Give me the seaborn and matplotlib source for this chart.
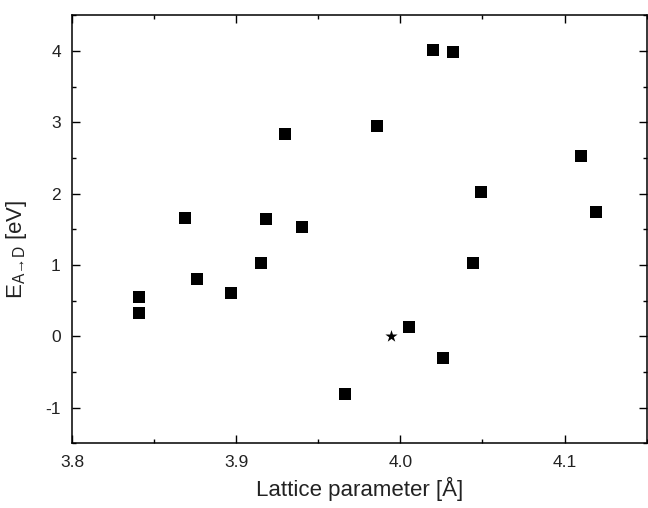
import matplotlib
matplotlib.use("Agg")
import matplotlib.pyplot as plt
import seaborn as sns
import pandas as pd
from matplotlib.ticker import MultipleLocator, FormatStrFormatter

# lattice parameter [Å] and E_A->D [eV]
lattice = [3.841, 3.841, 3.869, 3.876, 3.897, 3.915, 3.918, 3.930, 3.940,
           3.966, 3.986, 4.005, 4.020, 4.026, 4.032, 4.044, 4.049, 4.110, 4.119]
energy = [0.55, 0.335, 1.66, 0.80, 0.605, 1.03, 1.64, 2.83, 1.53,
          -0.81, 2.95, 0.135, 4.01, -0.30, 3.99, 1.03, 2.03, 2.53, 1.74]

# reference point (star)
ref_lattice = [3.994]
ref_energy = [0.0]

df = pd.DataFrame({"lattice": lattice, "energy": energy})
df_ref = pd.DataFrame({"lattice": ref_lattice, "energy": ref_energy})

sns.set_style("ticks")
plt.rcParams["font.family"] = ["Liberation Sans", "DejaVu Sans"]
plt.rcParams["mathtext.fontset"] = "custom"
plt.rcParams["mathtext.rm"] = "Liberation Sans"
plt.rcParams["mathtext.it"] = "Liberation Sans"
plt.rcParams["axes.unicode_minus"] = False

fig = plt.figure(figsize=(6.48, 5.08), dpi=100)
ax = fig.add_axes([0.111, 0.127, 0.887, 0.843])

sns.scatterplot(data=df, x="lattice", y="energy", marker="s", s=80,
                color="black", linewidth=0, ax=ax)
sns.scatterplot(data=df_ref, x="lattice", y="energy", marker="*", s=85,
                color="black", linewidth=0, ax=ax)

ax.set_xlim(3.8, 4.15)
ax.set_ylim(-1.5, 4.5)
ax.xaxis.set_major_locator(MultipleLocator(0.1))
ax.xaxis.set_minor_locator(MultipleLocator(0.05))
ax.yaxis.set_major_locator(MultipleLocator(1))
ax.yaxis.set_minor_locator(MultipleLocator(0.5))
ax.xaxis.set_major_formatter(FormatStrFormatter("%.1f"))

ax.tick_params(which="both", direction="in", top=True, right=True,
               labelsize=12.5, width=1, colors="black", labelcolor="#222222")
ax.tick_params(which="major", length=6, pad=8)
ax.tick_params(which="minor", length=3)
for sp in ax.spines.values():
    sp.set_visible(True)
    sp.set_linewidth(1.1)
    sp.set_color("black")

ax.set_xlabel("Lattice parameter [Å]", fontsize=16, labelpad=5, color="#222222")
ax.set_ylabel("E$_{\\mathrm{A→D}}$ [eV]", fontsize=16, color="#222222")
ax.yaxis.set_label_coords(-0.074, 0.452)

fig.savefig("out.png", dpi=100)
